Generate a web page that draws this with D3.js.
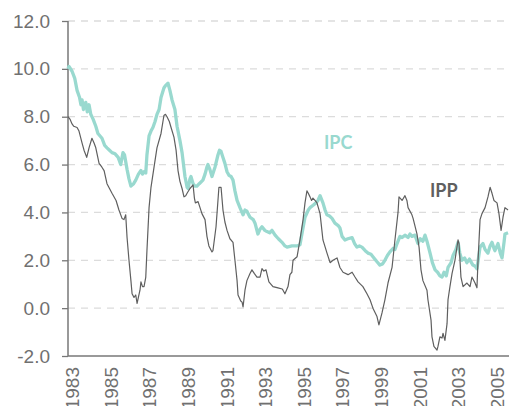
<!DOCTYPE html>
<html>
<head>
<meta charset="utf-8">
<script src="https://cdn.jsdelivr.net/npm/d3@7"></script>
<style>
  html, body { margin: 0; padding: 0; background: #fff; }
  svg { display: block; font-family: "Lato", "Open Sans", sans-serif; }
</style>
</head>
<body>
<script>
'use strict';

// IPC (teal) - year, value pairs
const ipcYears = [1983.00,1983.05,1983.21,1983.35,1983.47,1983.60,1983.67,1983.73,1983.80,1983.92,1984.00,1984.09,1984.18,1984.30,1984.44,1984.55,1984.76,1984.90,1985.02,1985.15,1985.28,1985.44,1985.60,1985.73,1985.85,1985.93,1986.06,1986.16,1986.26,1986.40,1986.51,1986.65,1986.78,1986.86,1986.94,1987.03,1987.09,1987.20,1987.30,1987.40,1987.51,1987.61,1987.72,1987.82,1987.97,1988.05,1988.18,1988.28,1988.39,1988.54,1988.65,1988.80,1988.91,1989.00,1989.06,1989.17,1989.22,1989.32,1989.37,1989.48,1989.58,1989.68,1989.80,1989.99,1990.10,1990.20,1990.25,1990.35,1990.46,1990.62,1990.77,1990.85,1990.93,1991.03,1991.13,1991.24,1991.34,1991.45,1991.55,1991.65,1991.76,1991.91,1992.07,1992.17,1992.27,1992.43,1992.60,1992.69,1992.84,1992.95,1993.05,1993.20,1993.31,1993.45,1993.57,1993.73,1993.90,1994.09,1994.24,1994.35,1994.60,1994.87,1995.02,1995.12,1995.28,1995.45,1995.54,1995.70,1995.85,1995.95,1996.06,1996.21,1996.32,1996.42,1996.55,1996.68,1996.83,1997.00,1997.09,1997.20,1997.35,1997.50,1997.72,1997.85,1997.97,1998.10,1998.23,1998.40,1998.54,1998.70,1998.80,1999.00,1999.16,1999.30,1999.42,1999.55,1999.68,1999.85,1999.94,2000.05,2000.20,2000.31,2000.46,2000.62,2000.72,2000.82,2000.98,2001.13,2001.25,2001.39,2001.50,2001.60,2001.76,2001.88,2002.02,2002.15,2002.27,2002.38,2002.48,2002.60,2002.69,2002.85,2002.95,2003.10,2003.21,2003.30,2003.41,2003.55,2003.67,2003.80,2003.98,2004.10,2004.19,2004.35,2004.50,2004.61,2004.76,2004.87,2004.97,2005.07,2005.12,2005.28,2005.40,2005.49,2005.60,2005.64,2005.80];
const ipcValues = [10.0,10.1,9.9,9.6,9.1,8.8,8.5,8.7,8.3,8.6,8.2,8.5,8.1,7.9,7.6,7.3,7.1,6.8,6.7,6.6,6.5,6.45,6.3,6.0,6.5,6.4,5.8,5.4,5.1,5.2,5.35,5.6,5.75,5.6,5.7,5.65,6.4,7.2,7.4,7.55,7.8,8.1,8.3,8.8,9.2,9.3,9.4,9.1,8.7,8.3,7.6,7.0,6.5,5.9,5.5,5.05,5.0,5.4,5.5,5.2,5.1,5.1,5.2,5.35,5.6,5.9,6.0,5.8,5.5,5.9,6.4,6.6,6.55,6.3,6.05,5.7,5.55,5.5,5.35,4.9,4.5,4.2,3.9,4.1,4.05,3.8,3.7,3.55,3.1,3.3,3.4,3.25,3.2,3.15,3.25,3.05,2.9,2.75,2.6,2.55,2.6,2.6,2.65,3.1,3.8,4.1,4.2,4.3,4.4,4.5,4.7,4.4,4.1,3.9,3.85,3.75,3.55,3.45,3.35,3.0,2.85,2.9,2.95,2.7,2.55,2.6,2.55,2.4,2.3,2.25,2.15,1.95,1.8,1.85,2.0,2.2,2.35,2.5,2.45,2.7,3.0,2.95,3.05,2.95,3.1,3.0,3.05,2.7,2.9,2.8,3.05,2.8,2.3,1.9,1.6,1.5,1.35,1.3,1.5,1.35,1.7,1.9,2.2,2.45,2.75,2.3,2.0,2.1,1.9,2.05,1.8,1.75,1.65,2.55,2.7,2.45,2.3,2.6,2.75,2.5,2.4,2.7,2.3,2.1,2.8,3.1,3.15];

// IPP (gray)
const ippYears = [1983.00,1983.10,1983.21,1983.30,1983.47,1983.57,1983.73,1983.83,1983.97,1984.09,1984.24,1984.35,1984.44,1984.61,1984.75,1984.87,1985.02,1985.15,1985.28,1985.49,1985.64,1985.80,1985.90,1985.99,1986.06,1986.16,1986.26,1986.32,1986.42,1986.51,1986.58,1986.66,1986.73,1986.78,1986.86,1986.94,1987.03,1987.09,1987.20,1987.30,1987.46,1987.61,1987.82,1987.97,1988.05,1988.13,1988.25,1988.34,1988.49,1988.60,1988.70,1988.80,1988.91,1989.01,1989.10,1989.17,1989.32,1989.48,1989.55,1989.60,1989.74,1989.94,1990.10,1990.20,1990.30,1990.46,1990.51,1990.67,1990.77,1990.82,1990.93,1991.03,1991.13,1991.24,1991.39,1991.55,1991.65,1991.76,1991.81,1991.95,1992.02,1992.07,1992.17,1992.27,1992.43,1992.53,1992.65,1992.79,1992.95,1993.05,1993.15,1993.26,1993.41,1993.62,1993.88,1994.10,1994.14,1994.24,1994.40,1994.50,1994.60,1994.66,1994.87,1995.02,1995.18,1995.28,1995.38,1995.45,1995.54,1995.62,1995.69,1995.80,1995.90,1996.06,1996.21,1996.42,1996.58,1996.73,1996.94,1997.09,1997.25,1997.51,1997.72,1997.87,1998.03,1998.28,1998.49,1998.65,1998.80,1999.01,1999.11,1999.27,1999.42,1999.58,1999.79,1999.94,2000.10,2000.15,2000.31,2000.46,2000.56,2000.62,2000.82,2000.88,2001.08,2001.19,2001.29,2001.39,2001.60,2001.65,2001.81,2001.86,2001.96,2002.12,2002.17,2002.27,2002.38,2002.43,2002.53,2002.64,2002.69,2002.79,2002.90,2003.05,2003.21,2003.26,2003.36,2003.47,2003.67,2003.83,2003.93,2004.09,2004.19,2004.24,2004.35,2004.45,2004.61,2004.76,2004.87,2004.97,2005.07,2005.23,2005.33,2005.44,2005.54,2005.64,2005.80];
const ippValues = [8.0,7.9,7.7,7.6,7.55,7.4,6.9,6.6,6.3,6.7,7.1,6.9,6.7,6.05,5.9,5.75,5.2,5.0,4.8,4.5,4.1,3.75,3.7,3.9,2.95,2.0,1.15,0.6,0.45,0.55,0.2,0.5,0.75,1.1,0.9,0.9,1.3,2.4,4.2,5.05,5.9,6.7,7.3,8.05,8.1,8.0,7.8,7.55,7.15,6.6,5.75,5.3,5.0,4.65,4.7,4.8,5.0,5.15,4.6,4.4,4.45,3.95,3.7,3.0,2.6,2.35,2.4,3.4,4.5,5.05,5.05,4.1,3.6,3.25,2.9,2.75,2.0,1.15,0.55,0.3,0.25,0.05,0.75,1.15,1.45,1.6,1.45,1.3,1.3,1.65,1.55,1.6,1.1,0.9,0.85,0.8,0.75,0.6,0.9,1.4,1.5,2.0,2.15,2.85,3.7,4.4,4.9,4.8,4.65,4.5,4.6,4.5,4.4,3.95,2.85,2.3,1.9,2.0,2.1,1.7,1.5,1.4,1.5,1.3,1.1,0.9,0.6,0.35,0.0,-0.35,-0.7,-0.2,0.35,1.05,1.7,2.85,4.0,4.65,4.5,4.7,4.5,4.2,3.9,3.75,3.1,2.55,1.6,1.15,0.75,0.35,-0.5,-1.2,-1.6,-1.75,-1.6,-1.2,-1.25,-1.05,-1.35,-0.65,0.35,0.9,1.45,2.0,2.85,2.7,1.3,0.9,1.05,0.9,1.3,1.05,0.85,1.9,3.7,3.95,4.2,4.65,5.05,4.8,4.5,4.4,3.95,3.25,3.8,4.2,4.1];

const yTicks = [-2, 0, 2, 4, 6, 8, 10, 12];
const xTicks = [1983, 1985, 1987, 1989, 1991, 1993, 1995, 1997, 1999, 2001, 2003, 2005];

const width = 509, height = 406;
const svg = d3.select('body').append('svg')
  .attr('width', width)
  .attr('height', height);

const x = d3.scaleLinear().domain([1983, 2005.85]).range([68, 509]);
const y = d3.scaleLinear().domain([-2, 12]).range([356, 21]);

// dashed grid lines
svg.append('g')
  .selectAll('line')
  .data(yTicks.filter(d => d > -2))
  .enter().append('line')
  .attr('x1', 68).attr('x2', width)
  .attr('y1', d => y(d)).attr('y2', d => y(d))
  .style('stroke', '#dcdcdc')
  .style('stroke-width', 1.3)
  .style('stroke-dasharray', '7,6');

// y axis
const yAxis = d3.axisLeft(y).tickValues(yTicks).tickSize(6).tickPadding(12)
  .tickFormat(d => d.toFixed(1));
const gy = svg.append('g').attr('transform', 'translate(68,0)').call(yAxis);
gy.select('.domain').remove();
gy.selectAll('line').style('stroke', '#777').style('stroke-width', 1.3);
gy.selectAll('text').style('font-size', '19px').style('fill', '#707070');

// x axis
const xAxis = d3.axisBottom(x).tickValues(xTicks).tickSize(0).tickFormat(d3.format('d'));
const gx = svg.append('g').attr('transform', 'translate(0,356)').call(xAxis);
gx.select('.domain').remove();
gx.selectAll('text')
  .attr('x', -11)
  .attr('y', 4)
  .attr('dy', '.35em')
  .attr('transform', 'rotate(-90)')
  .style('text-anchor', 'end')
  .style('font-size', '19px')
  .style('fill', '#707070');

// axis lines
svg.append('line')
  .attr('x1', 68).attr('x2', 68).attr('y1', y(12)).attr('y2', y(-2))
  .style('stroke', '#777').style('stroke-width', 1.5);
svg.append('line')
  .attr('x1', 68).attr('x2', width).attr('y1', y(-2)).attr('y2', y(-2))
  .style('stroke', '#777').style('stroke-width', 1.5);

// lines
const line = d3.line()
  .x(d => x(d[0]))
  .y(d => y(d[1]));

svg.append('path')
  .datum(ipcYears.map((yr, i) => [yr, ipcValues[i]]))
  .attr('d', line)
  .style('fill', 'none')
  .style('stroke', '#99d9cf')
  .style('stroke-width', 3.3)
  .style('stroke-linejoin', 'round');

svg.append('path')
  .datum(ippYears.map((yr, i) => [yr, ippValues[i]]))
  .attr('d', line)
  .style('fill', 'none')
  .style('stroke', '#5f5f5f')
  .style('stroke-width', 1.2)
  .style('stroke-linejoin', 'round');

// series labels
svg.append('text')
  .attr('x', 324).attr('y', 149)
  .style('font-size', '18px')
  .style('font-weight', 'bold')
  .style('fill', '#99d9cf')
  .text('IPC');

svg.append('text')
  .attr('x', 430).attr('y', 197)
  .style('font-size', '18px')
  .style('font-weight', 'bold')
  .style('fill', '#5f5f5f')
  .text('IPP');
</script>
</body>
</html>
